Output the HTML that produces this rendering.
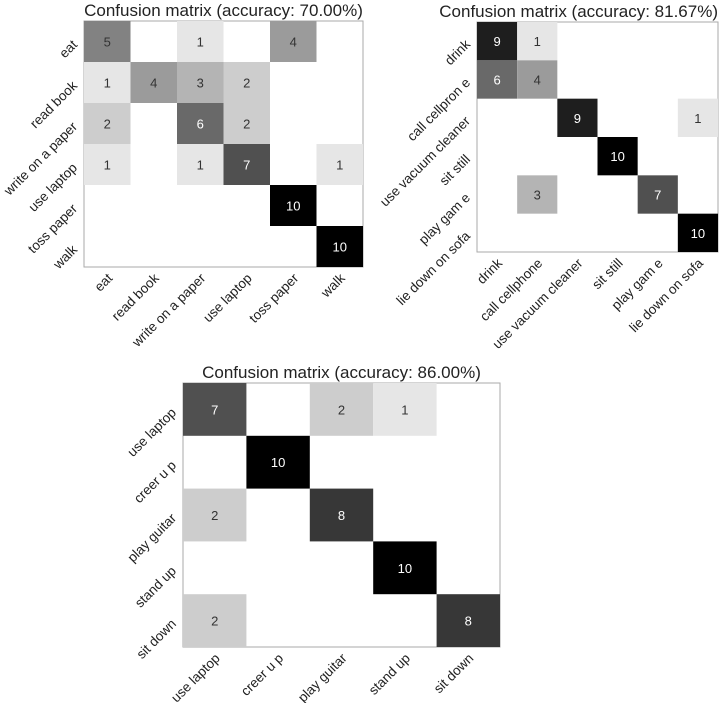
<!DOCTYPE html>
<html><head><meta charset="utf-8">
<style>
html,body{margin:0;padding:0;background:#fff;}
svg{display:block;font-family:"Liberation Sans",Arial,sans-serif;}
</style></head>
<body>
<svg id="chart" width="723" height="703" viewBox="0 0 723 703" xmlns="http://www.w3.org/2000/svg"></svg>
<script>
const labels1 = ["eat","read book","write on a paper","use laptop","toss paper","walk"];
const values1 = [
 [5,0,1,0,4,0],
 [1,4,3,2,0,0],
 [2,0,6,2,0,0],
 [1,0,1,7,0,1],
 [0,0,0,0,10,0],
 [0,0,0,0,0,10]];
const title1 = "Confusion matrix (accuracy: 70.00%)";

const labels2 = ["drink","call cellphone","use vacuum cleaner","sit still","play gam e","lie down on sofa"];
const ylabels2 = ["drink","call cellpron e","use vacuum cleaner","sit still","play gam e","lie down on sofa"];
const values2 = [
 [9,1,0,0,0,0],
 [6,4,0,0,0,0],
 [0,0,9,0,0,1],
 [0,0,0,10,0,0],
 [0,3,0,0,7,0],
 [0,0,0,0,0,10]];
const title2 = "Confusion matrix (accuracy: 81.67%)";

const labels3 = ["use laptop","creer u p","play guitar","stand up","sit down"];
const values3 = [
 [7,0,2,1,0],
 [0,10,0,0,0],
 [2,0,8,0,0],
 [0,0,0,10,0],
 [2,0,0,0,8]];
const title3 = "Confusion matrix (accuracy: 86.00%)";
const maxVal = 10;

const svg = document.getElementById('chart');
const NS = "http://www.w3.org/2000/svg";
function mk(tag, attrs){const e=document.createElementNS(NS,tag);for(const k in attrs)e.setAttribute(k,attrs[k]);svg.appendChild(e);return e;}

function drawMatrix(id, box, xl, yl, vals, title, titleAnchor){
  const n = xl.length;
  const cw = (box.r-box.l)/n, ch = (box.b-box.t)/n;
  const xs = i => box.l + i*cw;
  const ys = j => box.t + j*ch;
  const shade = v => { const g = v>=maxVal ? 0 : Math.max(0, Math.round(255 - 25*v)); return `rgb(${g},${g},${g})`; };
  const tx0 = titleAnchor==='end' ? box.r : (box.l+box.r)/2;
  const t = mk('text',{x:tx0, y:box.t-5, 'text-anchor':titleAnchor||'middle','font-size':17,fill:'#222'});
  t.textContent = title;
  
  
  const fr = mk('rect',{x:box.l,y:box.t,width:box.r-box.l,height:box.b-box.t,fill:'#fff',stroke:'#aaa','stroke-width':1});
  
  
  for(let j=0;j<n;j++){for(let i=0;i<n;i++){
    const v = vals[j][i]; if(!v) continue;
    const r = mk('rect',{x:xs(i),y:ys(j),width:cw,height:ch,fill:shade(v)});
    
    
    const tx = mk('text',{x:xs(i)+cw/2,y:ys(j)+ch/2+5,'text-anchor':'middle','font-size':13,fill:v>=6?'#fff':'#333'});
    tx.textContent = v;
    
    
  }}
  for(let i=0;i<n;i++){
    const x = xs(i)+cw/2+6, y = box.b+12;
    const lb = mk('text',{x:x,y:y,'text-anchor':'end','font-size':13.5,fill:'#222',transform:`rotate(-45 ${x} ${y})`});
    lb.textContent = xl[i];
    
    
  }
  for(let j=0;j<n;j++){
    const x = box.l-6, y = ys(j)+ch/2+4;
    const lb = mk('text',{x:x,y:y,'text-anchor':'end','font-size':13.5,fill:'#222',transform:`rotate(-45 ${x} ${y})`});
    lb.textContent = yl[j];
    
    
  }
}
drawMatrix('matrix-1',{l:84,r:363,t:21,b:267},labels1,labels1,values1,title1,'middle');
drawMatrix('matrix-2',{l:477,r:718,t:22,b:252},labels2,ylabels2,values2,title2,'end');
drawMatrix('matrix-3',{l:183,r:500,t:383,b:647},labels3,labels3,values3,title3,'middle');
</script>
</body></html>
